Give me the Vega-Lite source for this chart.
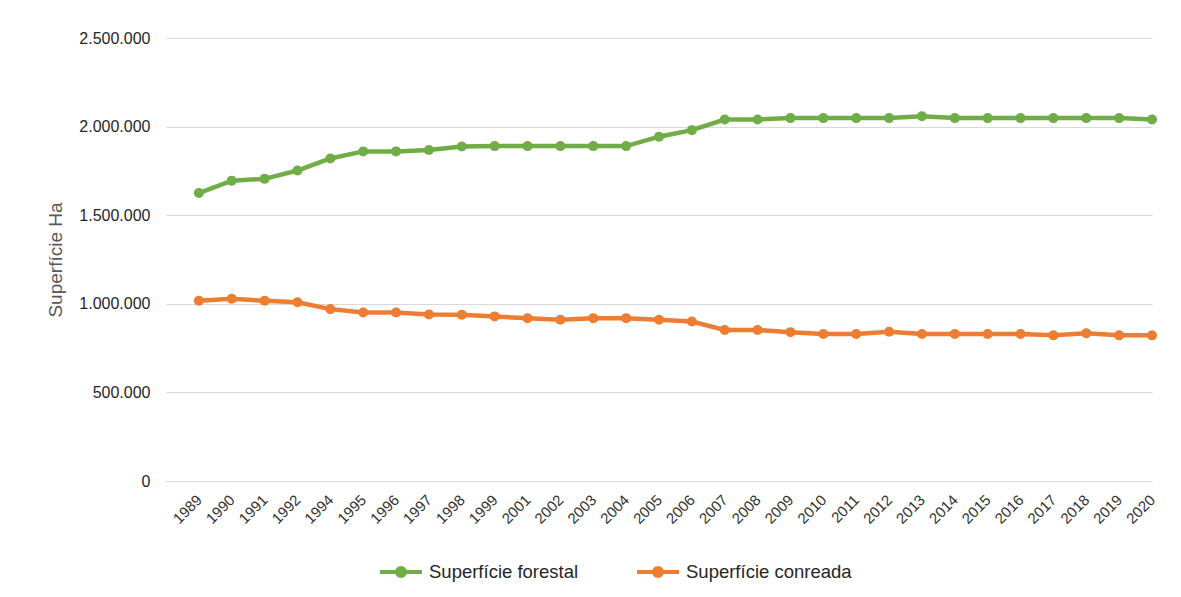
{
  "$schema": "https://vega.github.io/schema/vega-lite/v6.json",
  "width": 986,
  "height": 443,
  "autosize": "none",
  "padding": {"left": 166, "top": 38, "right": 29, "bottom": 116},
  "background": "white",
  "config": {"view": {"stroke": null}, "font": "Liberation Sans"},
  "data": {
    "values": [
      {"year": "1989", "serie": "Superfície forestal", "value": 1625000},
      {"year": "1990", "serie": "Superfície forestal", "value": 1695000},
      {"year": "1991", "serie": "Superfície forestal", "value": 1705000},
      {"year": "1992", "serie": "Superfície forestal", "value": 1752000},
      {"year": "1994", "serie": "Superfície forestal", "value": 1820000},
      {"year": "1995", "serie": "Superfície forestal", "value": 1860000},
      {"year": "1996", "serie": "Superfície forestal", "value": 1860000},
      {"year": "1997", "serie": "Superfície forestal", "value": 1868000},
      {"year": "1998", "serie": "Superfície forestal", "value": 1888000},
      {"year": "1999", "serie": "Superfície forestal", "value": 1890000},
      {"year": "2001", "serie": "Superfície forestal", "value": 1890000},
      {"year": "2002", "serie": "Superfície forestal", "value": 1890000},
      {"year": "2003", "serie": "Superfície forestal", "value": 1890000},
      {"year": "2004", "serie": "Superfície forestal", "value": 1890000},
      {"year": "2005", "serie": "Superfície forestal", "value": 1943000},
      {"year": "2006", "serie": "Superfície forestal", "value": 1980000},
      {"year": "2007", "serie": "Superfície forestal", "value": 2040000},
      {"year": "2008", "serie": "Superfície forestal", "value": 2040000},
      {"year": "2009", "serie": "Superfície forestal", "value": 2048000},
      {"year": "2010", "serie": "Superfície forestal", "value": 2048000},
      {"year": "2011", "serie": "Superfície forestal", "value": 2048000},
      {"year": "2012", "serie": "Superfície forestal", "value": 2048000},
      {"year": "2013", "serie": "Superfície forestal", "value": 2058000},
      {"year": "2014", "serie": "Superfície forestal", "value": 2048000},
      {"year": "2015", "serie": "Superfície forestal", "value": 2048000},
      {"year": "2016", "serie": "Superfície forestal", "value": 2048000},
      {"year": "2017", "serie": "Superfície forestal", "value": 2048000},
      {"year": "2018", "serie": "Superfície forestal", "value": 2048000},
      {"year": "2019", "serie": "Superfície forestal", "value": 2048000},
      {"year": "2020", "serie": "Superfície forestal", "value": 2040000},
      {"year": "1989", "serie": "Superfície conreada", "value": 1017000},
      {"year": "1990", "serie": "Superfície conreada", "value": 1028000},
      {"year": "1991", "serie": "Superfície conreada", "value": 1017000},
      {"year": "1992", "serie": "Superfície conreada", "value": 1009000},
      {"year": "1994", "serie": "Superfície conreada", "value": 970000},
      {"year": "1995", "serie": "Superfície conreada", "value": 951000},
      {"year": "1996", "serie": "Superfície conreada", "value": 951000},
      {"year": "1997", "serie": "Superfície conreada", "value": 940000},
      {"year": "1998", "serie": "Superfície conreada", "value": 938000},
      {"year": "1999", "serie": "Superfície conreada", "value": 929000},
      {"year": "2001", "serie": "Superfície conreada", "value": 918000},
      {"year": "2002", "serie": "Superfície conreada", "value": 910000},
      {"year": "2003", "serie": "Superfície conreada", "value": 919000},
      {"year": "2004", "serie": "Superfície conreada", "value": 919000},
      {"year": "2005", "serie": "Superfície conreada", "value": 910000},
      {"year": "2006", "serie": "Superfície conreada", "value": 900000},
      {"year": "2007", "serie": "Superfície conreada", "value": 852000},
      {"year": "2008", "serie": "Superfície conreada", "value": 852000},
      {"year": "2009", "serie": "Superfície conreada", "value": 840000},
      {"year": "2010", "serie": "Superfície conreada", "value": 830000},
      {"year": "2011", "serie": "Superfície conreada", "value": 830000},
      {"year": "2012", "serie": "Superfície conreada", "value": 842000},
      {"year": "2013", "serie": "Superfície conreada", "value": 830000},
      {"year": "2014", "serie": "Superfície conreada", "value": 830000},
      {"year": "2015", "serie": "Superfície conreada", "value": 830000},
      {"year": "2016", "serie": "Superfície conreada", "value": 830000},
      {"year": "2017", "serie": "Superfície conreada", "value": 822000},
      {"year": "2018", "serie": "Superfície conreada", "value": 834000},
      {"year": "2019", "serie": "Superfície conreada", "value": 822000},
      {"year": "2020", "serie": "Superfície conreada", "value": 822000}
    ]
  },
  "encoding": {
    "x": {
      "field": "year",
      "type": "ordinal",
      "sort": null,
      "scale": {"type": "point", "padding": 0.5, "align": 1},
      "axis": {
        "title": null,
        "labelAngle": -45,
        "labelAlign": "right",
        "labelBaseline": "middle",
        "labelFontSize": 15,
        "labelColor": "#333333",
        "labelPadding": 16,
        "ticks": false,
        "domain": true,
        "domainColor": "#d9d9d9",
        "domainWidth": 1,
        "grid": false
      }
    },
    "y": {
      "field": "value",
      "type": "quantitative",
      "scale": {"domain": [0, 2500000], "nice": false},
      "axis": {
        "title": "Superfície Ha",
        "titleFontSize": 19,
        "titleFontWeight": "normal",
        "titleColor": "#595959",
        "titlePadding": 13,
        "values": [0, 500000, 1000000, 1500000, 2000000, 2500000],
        "labelExpr": "replace(format(datum.value, ','), /,/g, '.')",
        "labelFontSize": 16,
        "labelColor": "#262626",
        "labelPadding": 16,
        "ticks": false,
        "domain": false,
        "grid": true,
        "gridColor": "#d9d9d9",
        "gridWidth": 1
      }
    },
    "color": {
      "field": "serie",
      "type": "nominal",
      "scale": {
        "domain": ["Superfície forestal", "Superfície conreada"],
        "range": ["#70AD47", "#ED7D31"]
      },
      "legend": {
        "title": null,
        "orient": "none",
        "legendX": 212,
        "legendY": 511,
        "direction": "horizontal",
        "symbolType": "M-1,0H1M-0.19,0A0.19,0.19,0,1,0,0.19,0A0.19,0.19,0,1,0,-0.19,0Z",
        "symbolSize": 1764,
        "symbolStrokeWidth": 4,
        "labelFontSize": 18.5,
        "labelColor": "#262626",
        "labelOffset": 5,
        "columnPadding": 50,
        "labelLimit": 400,
        "encode": {
          "symbols": {
            "update": {
              "fill": {"field": "value", "scale": "color"},
              "stroke": {"field": "value", "scale": "color"},
              "opacity": {"value": 1}
            }
          }
        }
      }
    }
  },
  "layer": [
    {"mark": {"type": "line", "strokeWidth": 4.5}},
    {"mark": {"type": "point", "filled": true, "size": 100, "opacity": 1}}
  ]
}
